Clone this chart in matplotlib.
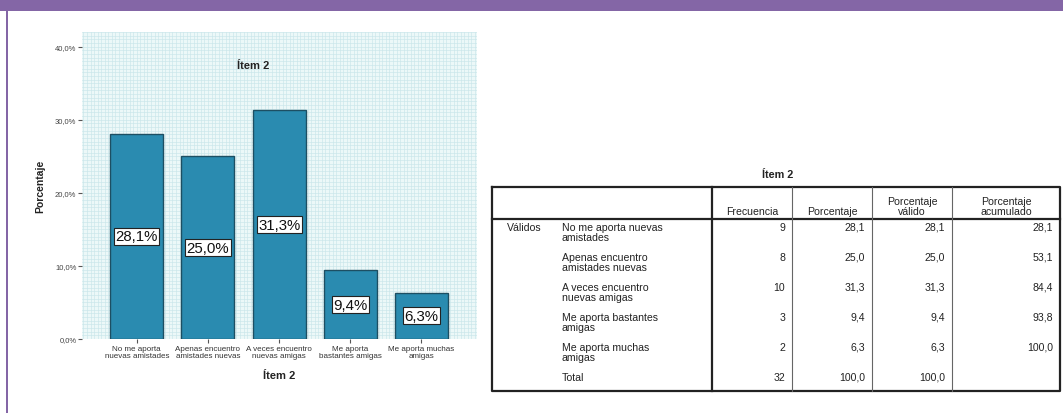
import matplotlib.pyplot as plt
from matplotlib.ticker import FixedLocator, MultipleLocator, FuncFormatter
from matplotlib.patches import Rectangle
import numpy as np

# frequency table for item 2
categorias = ["No me aporta\nnuevas amistades", "Apenas encuentro\namistades nuevas",
              "A veces encuentro\nnuevas amigas", "Me aporta\nbastantes amigas",
              "Me aporta muchas\namigas"]
filas = ["No me aporta nuevas\namistades", "Apenas encuentro\namistades nuevas",
         "A veces encuentro\nnuevas amigas", "Me aporta bastantes\namigas",
         "Me aporta muchas\namigas", "Total"]
frecuencia = [9, 8, 10, 3, 2, 32]
porcentaje = [28.1, 25.0, 31.3, 9.4, 6.3, 100.0]
valido = [28.1, 25.0, 31.3, 9.4, 6.3, 100.0]
acumulado = [28.1, 53.1, 84.4, 93.8, 100.0, None]
encabezados = ["Frecuencia", "Porcentaje", "Porcentaje\nválido", "Porcentaje\nacumulado"]
yticks = [0, 10, 20, 30, 40]

plt.rcParams['font.family'] = ['Liberation Sans', 'DejaVu Sans']

W, H = 1063, 414
fig = plt.figure(figsize=(W / 100, H / 100), dpi=100)
fig.patch.set_facecolor('white')

# page frame: purple band on top and a thin rule on the left
frame = fig.add_axes([0, 0, 1, 1])
frame.set_xlim(0, W)
frame.set_ylim(H, 0)
frame.axis('off')
frame.add_patch(Rectangle((0, 0), W, 12, color='#8466a6', lw=0))
frame.add_patch(Rectangle((6, 12), 2.2, H - 12, color='#8466a6', lw=0))


def coma(v, dec=1):
    return f"{v:.{dec}f}".replace('.', ',')


# ---- bar chart ----
ax = fig.add_axes([82 / W, 1 - 340 / H, 395 / W, 307 / H])
ax.set_facecolor('#ecf8f8')
x = np.arange(len(categorias))
vals = porcentaje[:5]
ax.bar(x, vals, width=0.745, color='#2a8bb0', edgecolor='#1d4f63', linewidth=1.0, zorder=3)
for xi, v in zip(x, vals):
    ax.text(xi, v / 2, coma(v) + "%", ha='center', va='center', fontsize=10.8, color='#111111',
            zorder=4, bbox=dict(boxstyle='square,pad=0.1', fc='white', ec='#222222', lw=0.8))

ax.set_xlim(-0.77, 4.78)
ax.set_ylim(0, 42)
ax.yaxis.set_major_locator(FixedLocator(yticks))
ax.yaxis.set_major_formatter(FuncFormatter(lambda v, p: coma(v) + "%"))
ax.yaxis.set_minor_locator(MultipleLocator(0.5))
ax.xaxis.set_minor_locator(MultipleLocator(0.05))
ax.set_xticks(x)
ax.set_xticklabels(categorias, fontsize=5.8, color='#333333', linespacing=0.95)
ax.tick_params(axis='y', labelsize=5.5, labelcolor='#444444', length=3, width=0.8, color='#555555', pad=1)
ax.tick_params(axis='x', length=3, width=0.8, color='#555555', pad=1.5)
ax.tick_params(which='minor', length=0)
ax.grid(which='both', color='#c9e6ea', lw=0.45, zorder=0)
for s in ax.spines.values():
    s.set_visible(False)

ax.text(0.433, 0.892, "Ítem 2", transform=ax.transAxes, ha='center', va='center',
        fontsize=8, fontweight='bold', color='#222222')
ax.set_ylabel("Porcentaje", fontsize=7.5, fontweight='bold', color='#222222')
ax.yaxis.set_label_coords(-0.094, 0.5)
ax.set_xlabel("Ítem 2", fontsize=8, fontweight='bold', color='#222222')
ax.xaxis.set_label_coords(0.5, -0.1)

# ---- frequency table ----
tl, tr = 492, 1060
cols = [712, 792, 872, 952, tr]
top, hbot = 188, 220
alturas = [30, 30, 30, 30, 30, 22]
ybords = [hbot]
for h in alturas:
    ybords.append(ybords[-1] + h)
bottom = ybords[-1]
tc = '#222222'
fs = 7.6

frame.text((tl + tr) / 2 + 2, 175, "Ítem 2", ha='center', va='center', fontsize=7.8,
           fontweight='bold', color=tc)
frame.plot([tl, tr, tr, tl, tl], [top, top, bottom, bottom, top], color='#222222', lw=1.6)
frame.plot([tl, tr], [hbot, hbot], color='#222222', lw=1.6)
frame.plot([cols[0], cols[0]], [top, bottom], color='#222222', lw=1.6)
for cx in cols[1:-1]:
    frame.plot([cx, cx], [top, bottom], color='#666666', lw=0.8)
for i, enc in enumerate(encabezados):
    frame.text((cols[i] + cols[i + 1]) / 2, hbot - 3, enc, ha='center', va='bottom',
               fontsize=fs, color=tc, linespacing=0.95)

frame.text(507, ybords[0] + 3, "Válidos", ha='left', va='top', fontsize=fs, color=tc)
for r, nombre in enumerate(filas):
    y0 = ybords[r] + 3
    frame.text(562, y0, nombre, ha='left', va='top', fontsize=fs, color=tc, linespacing=0.95)
    # last column has no value in the total row
    celdas = [str(frecuencia[r]), coma(porcentaje[r]), coma(valido[r]),
              coma(acumulado[r]) if acumulado[r] is not None else ""]
    for c, txt in enumerate(celdas):
        frame.text(cols[c + 1] - 7, y0, txt, ha='right', va='top', fontsize=fs, color=tc)

fig.savefig('out.png', dpi=100)
